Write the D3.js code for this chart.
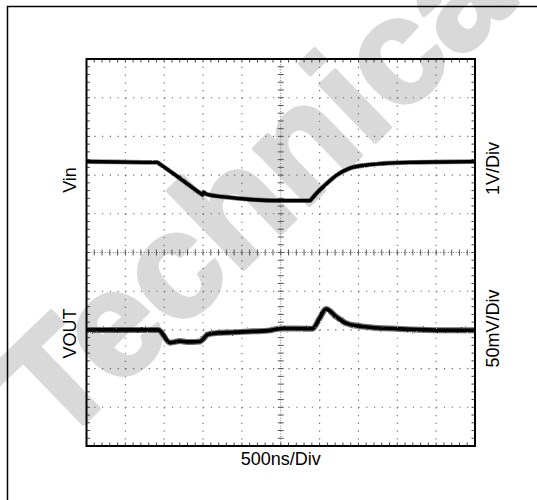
<!DOCTYPE html>
<html>
<head>
<meta charset="utf-8">
<script src="https://cdn.jsdelivr.net/npm/d3@7"></script>
<style>
  html, body { margin: 0; padding: 0; background: #fff; }
  svg { display: block; }
  text { font-family: "Liberation Sans", Arial, Helvetica, sans-serif; }
</style>
</head>
<body>
<div id="chart"></div>
<script>
// time axis: 500ns/Div, 10 divisions
var timeTicks = d3.range(0, 5001, 500);
var minorTime = d3.range(0, 5001, 100);

// Vin trace (1V/Div), volts relative to the centre graticule line
var vinTime = [0, 400, 880, 911, 940, 1200, 1480, 1495, 1505, 1540, 1800, 2104, 2490, 2860, 2876, 2900, 2960, 3048, 3220, 3391, 3606, 3816, 4164, 4600, 5000];
var vinVolts = [2.35, 2.34, 2.33, 2.33, 2.29, 1.92, 1.51, 1.49, 1.56, 1.51, 1.43, 1.37, 1.34, 1.34, 1.34, 1.39, 1.53, 1.70, 2.00, 2.18, 2.26, 2.30, 2.33, 2.34, 2.35];

// VOUT trace (50mV/Div), deviation in mV, drawn 100mV below the centre line
var voutOffset = -100;
var voutTime = [0, 500, 900, 924, 1075, 1203, 1290, 1371, 1461, 1564, 1675, 1885, 2143, 2362, 2503, 2851, 2909, 3000, 3082, 3217, 3346, 3545, 4035, 4485, 5000];
var voutMv = [0, 0, 0, 0, -16.5, -14.5, -15.5, -15.5, -14.9, -5.8, -4.1, -3.2, -1.9, -0.6, 1.9, 1.6, 1.6, 15, 27, 16.8, 8.4, 4.5, 1.3, -0.3, -0.6];

var labels = { vin: "Vin", vout: "VOUT", vinScale: "1V/Div", voutScale: "50mV/Div", time: "500ns/Div" };

var width = 537, height = 500;
var L = 86.5, R = 475, T = 59, B = 446;

var svg = d3.select("#chart").append("svg")
  .attr("width", width)
  .attr("height", height);

var x = d3.scaleLinear().domain([0, 5000]).range([L, R]);
var yVin = d3.scaleLinear().domain([-5, 5]).range([B, T]);
var yOut = d3.scaleLinear().domain([-250, 250]).range([B, T]);
var divs = d3.range(-5, 5.01, 1);
var minorDivs = d3.range(-5, 5.01, 0.2);

// rough edges for the scope traces
var defs = svg.append("defs");
var f = defs.append("filter").attr("id", "grain")
  .attr("x", "-5%").attr("y", "-20%").attr("width", "110%").attr("height", "140%");
f.append("feTurbulence").attr("type", "fractalNoise")
  .attr("baseFrequency", 0.8).attr("numOctaves", 1).attr("seed", 3).attr("result", "noise");
f.append("feDisplacementMap").attr("in", "SourceGraphic").attr("in2", "noise")
  .attr("scale", 2.2).attr("xChannelSelector", "R").attr("yChannelSelector", "G");

// watermark (heavier look with a same-colour stroke)
svg.append("text")
  .attr("transform", "translate(58,448) rotate(-44)")
  .attr("fill", "#d9d9d9")
  .attr("stroke", "#d9d9d9")
  .attr("stroke-width", 4)
  .attr("stroke-linejoin", "round")
  .style("font-size", "150px")
  .style("font-weight", "bold")
  .text("Technica");

// outer border (only top and left are inside the picture)
svg.append("rect")
  .attr("x", 7.5).attr("y", 6.5)
  .attr("width", width + 20).attr("height", height + 20)
  .attr("fill", "none")
  .attr("stroke", "#000")
  .attr("stroke-width", 1.5);

var grid = svg.append("g");
var minorPx = (R - L) / 50;
var minorPy = (B - T) / 50;

// dotted graticule
grid.selectAll(".vgrid")
  .data(timeTicks.filter(d => d > 0 && d < 5000 && d !== 2500))
  .enter().append("line")
  .attr("x1", d => x(d)).attr("x2", d => x(d))
  .attr("y1", T).attr("y2", B)
  .attr("stroke", "#666")
  .attr("stroke-width", 1.1)
  .attr("stroke-dasharray", "1.2," + (minorPy - 1.2));

grid.selectAll(".hgrid")
  .data(divs.filter(d => d > -5 && d < 5 && d !== 0))
  .enter().append("line")
  .attr("x1", L).attr("x2", R)
  .attr("y1", d => yVin(d)).attr("y2", d => yVin(d))
  .attr("stroke", "#666")
  .attr("stroke-width", 1.1)
  .attr("stroke-dasharray", "1.2," + (minorPx - 1.2));

// centre cross
grid.append("line")
  .attr("x1", L).attr("x2", R)
  .attr("y1", yVin(0)).attr("y2", yVin(0))
  .attr("stroke", "#777").attr("stroke-width", 1)
  .attr("stroke-dasharray", "1,1.6");
grid.append("line")
  .attr("x1", x(2500)).attr("x2", x(2500))
  .attr("y1", T).attr("y2", B)
  .attr("stroke", "#777").attr("stroke-width", 1)
  .attr("stroke-dasharray", "1,1.6");

grid.selectAll(".ctick")
  .data(minorTime)
  .enter().append("line")
  .attr("x1", d => x(d)).attr("x2", d => x(d))
  .attr("y1", yVin(0) - 3).attr("y2", yVin(0) + 3)
  .attr("stroke", "#555").attr("stroke-width", 1);
grid.selectAll(".ctickv")
  .data(minorDivs)
  .enter().append("line")
  .attr("x1", x(2500) - 3).attr("x2", x(2500) + 3)
  .attr("y1", d => yVin(d)).attr("y2", d => yVin(d))
  .attr("stroke", "#555").attr("stroke-width", 1);

// minor ticks along the frame
grid.selectAll(".ttick")
  .data(minorTime)
  .enter().append("line")
  .attr("x1", d => x(d)).attr("x2", d => x(d))
  .attr("y1", T).attr("y2", T + 3.5)
  .attr("stroke", "#444").attr("stroke-width", 1);
grid.selectAll(".btick")
  .data(minorTime)
  .enter().append("line")
  .attr("x1", d => x(d)).attr("x2", d => x(d))
  .attr("y1", B - 3.5).attr("y2", B)
  .attr("stroke", "#444").attr("stroke-width", 1);
grid.selectAll(".ltick")
  .data(minorDivs)
  .enter().append("line")
  .attr("x1", L).attr("x2", L + 3.5)
  .attr("y1", d => yVin(d)).attr("y2", d => yVin(d))
  .attr("stroke", "#444").attr("stroke-width", 1);
grid.selectAll(".rtick")
  .data(minorDivs)
  .enter().append("line")
  .attr("x1", R - 3.5).attr("x2", R)
  .attr("y1", d => yVin(d)).attr("y2", d => yVin(d))
  .attr("stroke", "#444").attr("stroke-width", 1);

// traces
var vinData = vinTime.map((t, i) => ({ t: t, v: vinVolts[i] }));
var voutData = voutTime.map((t, i) => ({ t: t, v: voutOffset + voutMv[i] }));

var vinLine = d3.line().x(d => x(d.t)).y(d => yVin(d.v)).curve(d3.curveMonotoneX);
var voutLine = d3.line().x(d => x(d.t)).y(d => yOut(d.v)).curve(d3.curveMonotoneX);

var traces = svg.append("g");
traces.append("path").datum(vinData)
  .attr("d", vinLine)
  .attr("fill", "none").attr("stroke", "#333").attr("stroke-width", 4.8)
  .attr("stroke-opacity", 0.6).attr("filter", "url(#grain)");
traces.append("path").datum(vinData)
  .attr("d", vinLine)
  .attr("fill", "none").attr("stroke", "#000").attr("stroke-width", 3.4);

traces.append("path").datum(voutData)
  .attr("d", voutLine)
  .attr("fill", "none").attr("stroke", "#333").attr("stroke-width", 6)
  .attr("stroke-opacity", 0.7).attr("filter", "url(#grain)");
traces.append("path").datum(voutData)
  .attr("d", voutLine)
  .attr("fill", "none").attr("stroke", "#000").attr("stroke-width", 3.6)
  .attr("filter", "url(#grain)");

// frame
svg.append("rect")
  .attr("x", L).attr("y", T)
  .attr("width", R - L).attr("height", B - T)
  .attr("fill", "none")
  .attr("stroke", "#000")
  .attr("stroke-width", 2);

// labels
var fs = "18px";
svg.append("text")
  .attr("transform", "translate(75.5," + 180 + ") rotate(-90)")
  .attr("text-anchor", "middle").style("font-size", fs).text(labels.vin);
svg.append("text")
  .attr("transform", "translate(75.5," + 333.5 + ") rotate(-90)")
  .attr("text-anchor", "middle").style("font-size", fs).text(labels.vout);
svg.append("text")
  .attr("transform", "translate(498.5," + 168.5 + ") rotate(-90)")
  .attr("text-anchor", "middle").style("font-size", fs).text(labels.vinScale);
svg.append("text")
  .attr("transform", "translate(498.5," + 328.5 + ") rotate(-90)")
  .attr("text-anchor", "middle").style("font-size", fs).text(labels.voutScale);
svg.append("text")
  .attr("x", x(2500)).attr("y", 464.5)
  .attr("text-anchor", "middle").style("font-size", fs).text(labels.time);
</script>
</body>
</html>
